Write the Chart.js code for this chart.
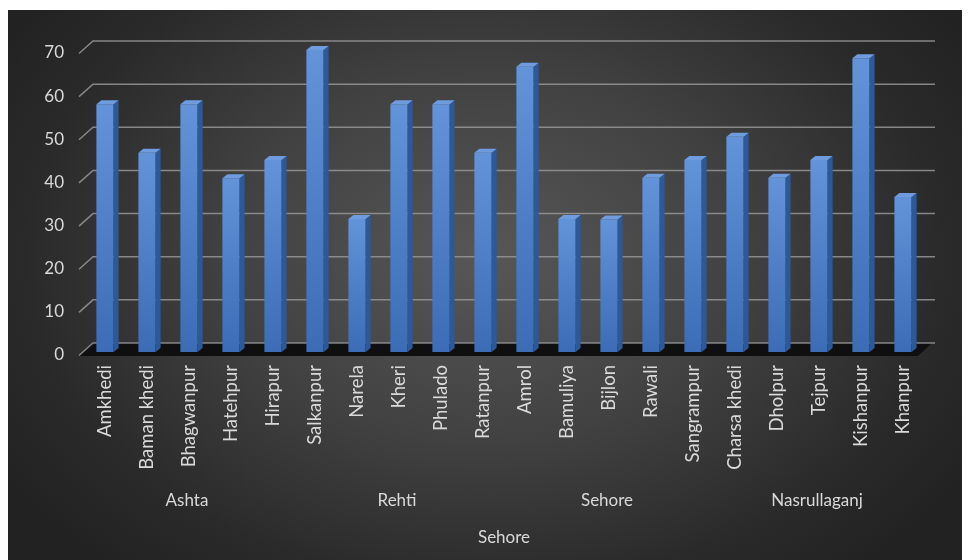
<!DOCTYPE html>
<html>
<head>
<meta charset="utf-8">
<script src="https://cdn.jsdelivr.net/npm/chart.js@4/dist/chart.umd.min.js"></script>
<style>
  html, body { margin: 0; padding: 0; background: #fff; }
  #wrap {
    position: absolute; left: 8px; top: 10px; width: 954px; height: 550px;
    background: radial-gradient(ellipse 60% 75% at 50% 45%, #575757 0%, #414141 45%, #2a2a2a 80%, #222 100%);
  }
</style>
</head>
<body>
<div id="wrap"><canvas id="chart"></canvas></div>
<script>
// villages along the x axis
const villages = ['Amkhedi', 'Baman khedi', 'Bhagwanpur', 'Hatehpur', 'Hirapur',
  'Salkanpur', 'Narela', 'Kheri', 'Phulado', 'Ratanpur',
  'Amrol', 'Bamuliya', 'Bijlon', 'Rawali', 'Sangrampur',
  'Charsa khedi', 'Dholpur', 'Tejpur', 'Kishanpur', 'Khanpur'];
const values = [57.4, 46.2, 57.4, 40.3, 44.5,
  70, 30.8, 57.4, 57.4, 46.2,
  66.1, 30.8, 30.7, 40.4, 44.5,
  49.9, 40.4, 44.5, 68.1, 35.9];
// block names and how many villages each covers
const blocks = ['Ashta', 'Rehti', 'Sehore', 'Nasrullaganj'];
const blockSizes = [5, 5, 5, 5];
const districtTitle = 'Sehore';

const textColor = '#d9d9d9';
const fontFamily = 'Lato, "Open Sans", sans-serif';

// fake 3D: floor, back-wall grid, bar sides and tops
const depth3d = {
    id: 'depth3d',
    beforeDatasetsDraw(chart) {
        const {ctx, chartArea: a, scales: {y}} = chart;
        const y0 = y.getPixelForValue(0);
        ctx.save();
        ctx.fillStyle = '#0f0f0f';
        ctx.beginPath();
        ctx.moveTo(a.left - 5, y0 + 4);
        ctx.lineTo(a.left + 9, y0 - 9);
        ctx.lineTo(a.right + 8, y0 - 9);
        ctx.lineTo(a.right - 6, y0 + 4);
        ctx.closePath();
        ctx.fill();

        ctx.strokeStyle = 'rgba(150,150,150,0.85)';
        ctx.lineWidth = 1.5;
        y.ticks.forEach(t => {
            const py = y.getPixelForValue(t.value);
            ctx.beginPath();
            ctx.moveTo(a.left - 5, py + 3.5);
            ctx.lineTo(a.left + 9, py - 9);
            ctx.lineTo(a.right + 11, py - 9);
            ctx.stroke();
        });
        ctx.restore();
    },
    afterDatasetsDraw(chart) {
        const ctx = chart.ctx;
        const dx = 5, dy = 4;
        ctx.save();
        chart.getDatasetMeta(0).data.forEach(bar => {
            const p = bar.getProps(['x', 'y', 'base', 'width'], true);
            const l = p.x - p.width / 2, r = p.x + p.width / 2;
            ctx.fillStyle = '#2e5896';
            ctx.beginPath();
            ctx.moveTo(r, p.y);
            ctx.lineTo(r + dx, p.y - dy);
            ctx.lineTo(r + dx, p.base - dy);
            ctx.lineTo(r, p.base);
            ctx.closePath();
            ctx.fill();
            ctx.fillStyle = '#6e9cdf';
            ctx.beginPath();
            ctx.moveTo(l, p.y);
            ctx.lineTo(l + dx, p.y - dy);
            ctx.lineTo(r + dx, p.y - dy);
            ctx.lineTo(r, p.y);
            ctx.closePath();
            ctx.fill();
        });
        ctx.restore();
    },
    afterDraw(chart) {
        // block names under the village labels
        const {ctx, scales: {x}} = chart;
        ctx.save();
        ctx.fillStyle = textColor;
        ctx.font = '17px ' + fontFamily;
        ctx.textAlign = 'center';
        ctx.textBaseline = 'middle';
        let start = 0;
        blocks.forEach((name, i) => {
            const end = start + blockSizes[i] - 1;
            const cx = (x.getPixelForValue(start) + x.getPixelForValue(end)) / 2;
            ctx.fillText(name, cx - 2, 491);
            start = end + 1;
        });
        ctx.restore();
    }
};

const ctx = document.getElementById('chart').getContext('2d');
const chart = new Chart(ctx, {
    type: 'bar',
    data: {
        labels: villages,
        datasets: [{
            data: values,
            backgroundColor: function(c) {
                const ch = c.chart;
                if (!ch.chartArea || c.raw === undefined) return '#4a7cc4';
                const ys = ch.scales.y;
                const top = ys.getPixelForValue(c.raw);
                const base = ys.getPixelForValue(0);
                const g = ch.ctx.createLinearGradient(0, top, 0, base);
                g.addColorStop(0, '#6393d8');
                g.addColorStop(1, '#3b6cb5');
                return g;
            },
            borderWidth: 0,
            barPercentage: 0.41,
            categoryPercentage: 1
        }]
    },
    options: {
        responsive: true,
        maintainAspectRatio: false,
        animation: false,
        layout: {
            padding: { left: 0, right: 38, top: 40, bottom: 0 }
        },
        scales: {
            x: {
                grid: { display: false, drawTicks: false },
                border: { display: false },
                afterFit: s => { s.height = 208; },
                ticks: {
                    color: textColor,
                    minRotation: 90,
                    maxRotation: 90,
                    autoSkip: false,
                    padding: 13,
                    font: { size: 18.5, family: fontFamily }
                },
                title: {
                    display: true,
                    text: districtTitle,
                    color: textColor,
                    padding: { top: 0, bottom: 12 },
                    font: { size: 17, family: fontFamily }
                }
            },
            y: {
                min: 0,
                max: 70,
                grid: { display: false, drawTicks: false },
                border: { display: false },
                afterFit: s => { s.width = 76; },
                ticks: {
                    stepSize: 10,
                    color: textColor,
                    padding: 20,
                    labelOffset: 3,
                    font: { size: 17, family: fontFamily }
                }
            }
        },
        plugins: {
            legend: { display: false },
            tooltip: { enabled: false }
        }
    },
    plugins: [depth3d]
});
</script>
</body>
</html>
